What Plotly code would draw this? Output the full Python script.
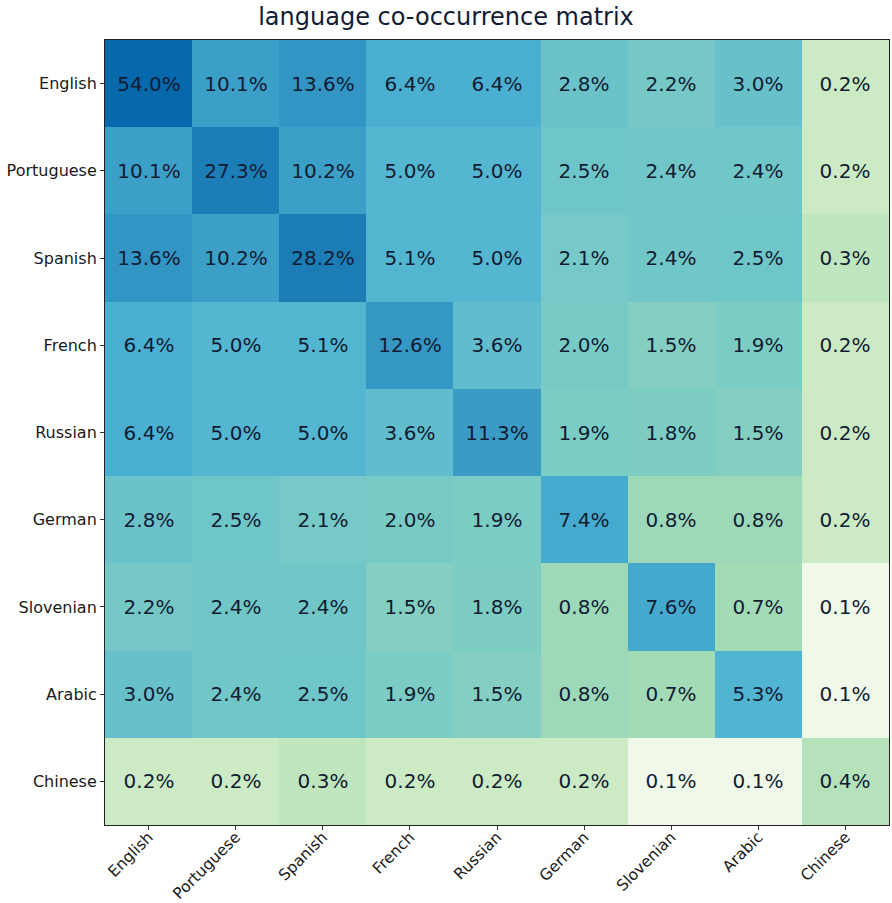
import numpy as np
import plotly.graph_objects as go

languages = ["English", "Portuguese", "Spanish", "French", "Russian",
             "German", "Slovenian", "Arabic", "Chinese"]

row_english = [54.0, 10.1, 13.6, 6.4, 6.4, 2.8, 2.2, 3.0, 0.2]
row_portuguese = [10.1, 27.3, 10.2, 5.0, 5.0, 2.5, 2.4, 2.4, 0.2]
row_spanish = [13.6, 10.2, 28.2, 5.1, 5.0, 2.1, 2.4, 2.5, 0.3]
row_french = [6.4, 5.0, 5.1, 12.6, 3.6, 2.0, 1.5, 1.9, 0.2]
row_russian = [6.4, 5.0, 5.0, 3.6, 11.3, 1.9, 1.8, 1.5, 0.2]
row_german = [2.8, 2.5, 2.1, 2.0, 1.9, 7.4, 0.8, 0.8, 0.2]
row_slovenian = [2.2, 2.4, 2.4, 1.5, 1.8, 0.8, 7.6, 0.7, 0.1]
row_arabic = [3.0, 2.4, 2.5, 1.9, 1.5, 0.8, 0.7, 5.3, 0.1]
row_chinese = [0.2, 0.2, 0.3, 0.2, 0.2, 0.2, 0.1, 0.1, 0.4]

values = np.array([row_english, row_portuguese, row_spanish, row_french,
                   row_russian, row_german, row_slovenian, row_arabic,
                   row_chinese])

# GnBu colour stops mapped onto a log scale
gnbu_f = [0.25, 0.375, 0.5, 0.625, 0.75, 0.875, 1.0]
gnbu_c = ["#ccebc5", "#a8ddb5", "#7bccc4", "#4eb3d3", "#2b8cbe", "#0868ac", "#084081"]
A, B = 0.43, 0.257
zmin = -1.0
zmax = (1.0 - A) / B
colorscale = [[0.0, "#f0f9e9"]]
for f, c in zip(gnbu_f, gnbu_c):
    z = (f - A) / B
    colorscale.append([(z - zmin) / (zmax - zmin), c])
colorscale[-1][0] = 1.0

text = [[f"{v:.1f}%" for v in row] for row in values]

fig = go.Figure(go.Heatmap(
    z=np.log10(values),
    x=languages,
    y=languages,
    text=text,
    texttemplate="%{text}",
    textfont=dict(size=20, color="#121c33", family="DejaVu Sans"),
    colorscale=colorscale,
    zmin=zmin,
    zmax=zmax,
    showscale=False,
    xgap=0, ygap=0,
    hoverinfo="skip",
))

fig.update_layout(
    width=892, height=903,
    margin=dict(l=105, r=3, t=40, b=78),
    paper_bgcolor="white",
    plot_bgcolor="white",
    font=dict(family="DejaVu Sans", color="#1a1a1a"),
    title=dict(text="language co-occurrence matrix", x=0.5, xanchor="center",
               y=1 - 17 / 903, yanchor="middle",
               font=dict(size=24, color="#121c33", family="DejaVu Sans")),
)
fig.update_xaxes(
    tickangle=-45, tickfont=dict(size=15.5, color="#1a1a1a"),
    ticks="outside", ticklen=4, tickcolor="#333",
    ticklabelstandoff=-8,
    showline=True, linecolor="#222", linewidth=1, mirror=True,
    showgrid=False, zeroline=False, automargin=False,
)
fig.update_yaxes(
    autorange="reversed", tickfont=dict(size=16, color="#1a1a1a"),
    ticks="outside", ticklen=4, tickcolor="#333",
    showline=True, linecolor="#222", linewidth=1, mirror=True,
    showgrid=False, zeroline=False, automargin=False,
)

fig.write_html(
    "out.html",
    config={"displayModeBar": False},
    post_script="document.body.style.margin='0';document.body.style.overflow='hidden';",
)
